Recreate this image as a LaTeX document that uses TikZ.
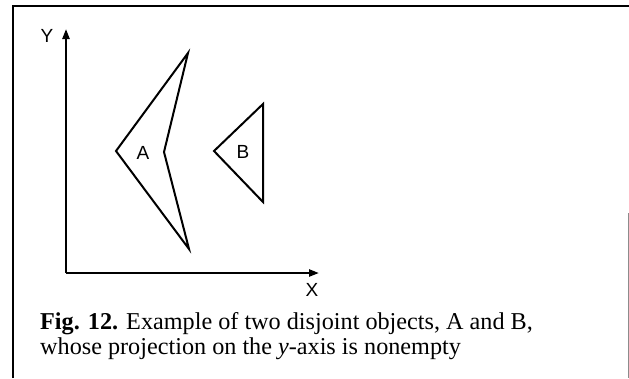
\documentclass[tikz,border=0pt]{standalone}
\usepackage{fontspec}
\setmainfont{Liberation Serif}
\newfontfamily\labelfont{Liberation Sans}
\usetikzlibrary{arrows.meta}
\tikzset{
  frame/.style={line width=1.3pt, black},
  axis/.style={line width=2.2pt, -{Triangle[length=10pt,width=7pt]}},
  shapeline/.style={line width=2pt, line join=miter},
  lbl/.style={font=\labelfont\fontsize{19}{19}\selectfont, inner sep=0pt},
  captext/.style={font=\fontsize{24.2}{25}\selectfont, inner sep=0pt, anchor=base west}
}
\begin{document}
\begin{tikzpicture}[x=1pt,y=-1pt]
\useasboundingbox (0,0) rectangle (629,378);
% frame
\coordinate (fb) at (13,378);
\coordinate (ftl) at (13,6);
\coordinate (ftr) at (629,6);
\coordinate (frt) at (628,213);
\coordinate (frb) at (628,378);
\draw[frame] (fb) -- (ftl) -- (ftr);
\draw[line width=1pt, black!45] (frt) -- (frb);
% axes
\coordinate (O) at (66,273);
\coordinate (Ytip) at (66,29);
\coordinate (Xtip) at (319,273);
\draw[axis] (O) -- (Ytip);
\draw[axis] (O) -- (Xtip);
\node[lbl] (Y) at (47,36) {Y};
\node[lbl] (X) at (312,290) {X};
% object A
\coordinate (a1) at (116,151);
\coordinate (a2) at (188,53);
\coordinate (a3) at (164,152);
\coordinate (a4) at (189,249);
\draw[shapeline] (a1) -- (a2) -- (a3) -- (a4) -- cycle;
\node[lbl] (A) at (143,153) {A};
% object B
\coordinate (b1) at (214,151);
\coordinate (b2) at (263,104);
\coordinate (b3) at (263,202);
\draw[shapeline] (b1) -- (b2) -- (b3) -- cycle;
\node[lbl] (B) at (243,152) {B};
% caption
\node[captext] (cap1) at (40,329) {\textbf{Fig. 12.} Example of two disjoint objects, A and B,};
\node[captext] (cap2) at (40,354) {whose projection on the \textit{y}-axis is nonempty};
\end{tikzpicture}
\end{document}
